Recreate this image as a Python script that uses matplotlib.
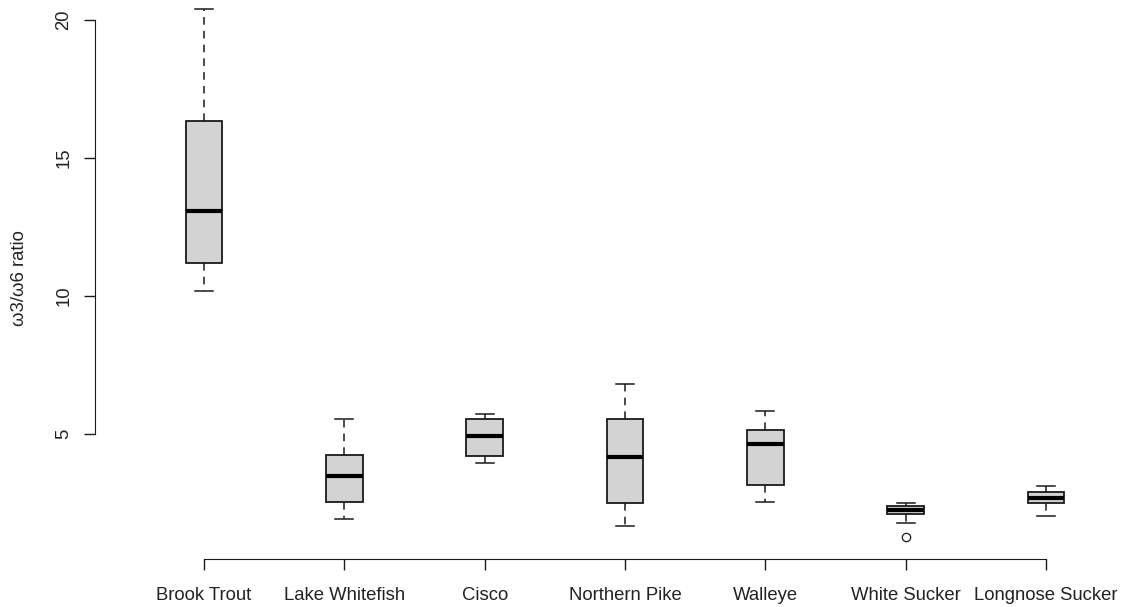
import matplotlib
matplotlib.use("Agg")
import matplotlib.pyplot as plt

plt.rcParams['font.family'] = ['Liberation Sans', 'DejaVu Sans']

species = ["Brook Trout", "Lake Whitefish", "Cisco", "Northern Pike",
           "Walleye", "White Sucker", "Longnose Sucker"]
whislo = [10.17, 1.91, 3.95, 1.66, 2.54, 1.78, 2.01]
q1 = [11.20, 2.53, 4.20, 2.49, 3.15, 2.09, 2.49]
med = [13.06, 3.47, 4.93, 4.17, 4.63, 2.24, 2.66]
q3 = [16.33, 4.22, 5.54, 5.54, 5.14, 2.39, 2.88]
whishi = [20.37, 5.54, 5.72, 6.79, 5.81, 2.50, 3.11]
outliers = [[], [], [], [], [], [1.25], []]
yticks = [5, 10, 15, 20]

stats = []
for i in range(len(species)):
    stats.append(dict(label=species[i], whislo=whislo[i], q1=q1[i], med=med[i],
                      q3=q3[i], whishi=whishi[i], fliers=outliers[i]))

fig = plt.figure(figsize=(11.23, 6.07), dpi=100)
ax = fig.add_axes([94.7/1123, (607-559.3)/607, (1123-94.7)/1123, 559.3/607])

pos = list(range(1, len(species)+1))
ax.bxp(stats, positions=pos, widths=0.26, patch_artist=True,
       boxprops=dict(facecolor='#d3d3d3', edgecolor='#1a1a1a', linewidth=1.3),
       medianprops=dict(color='black', linewidth=3),
       whiskerprops=dict(color='#1a1a1a', linewidth=1.1, linestyle=(0, (5, 4))),
       capprops=dict(color='#1a1a1a', linewidth=1.1),
       capwidths=0.13,
       flierprops=dict(marker='o', markerfacecolor='none', markeredgecolor='#1a1a1a',
                       markersize=6, markeredgewidth=0.9))

ax.set_xlim(0.221, 7.549)
ax.set_ylim(0.45, 20.71)

for s in ['top', 'right']:
    ax.spines[s].set_visible(False)
ax.spines['left'].set_bounds(5, 20)
ax.spines['bottom'].set_bounds(1, 7)
ax.spines['left'].set_color('#1a1a1a')
ax.spines['bottom'].set_color('#1a1a1a')

ax.set_yticks(yticks)
ax.set_yticklabels([str(t) for t in yticks], rotation=90, va='center')
ax.set_xticks(pos)
ax.set_xticklabels(species)
ax.tick_params(axis='y', length=8, width=1, pad=8, labelsize=13.3, colors='#1a1a1a', labelcolor='#222222')
ax.tick_params(axis='x', length=8, width=1, pad=12, labelsize=13.3, colors='#1a1a1a', labelcolor='#222222')

fig.text(20/1123, 1-278/607, "ω3/ω6 ratio", rotation=90, ha='center', va='center',
         fontsize=13.3, color='#222222')

fig.savefig("out.png", dpi=100)
